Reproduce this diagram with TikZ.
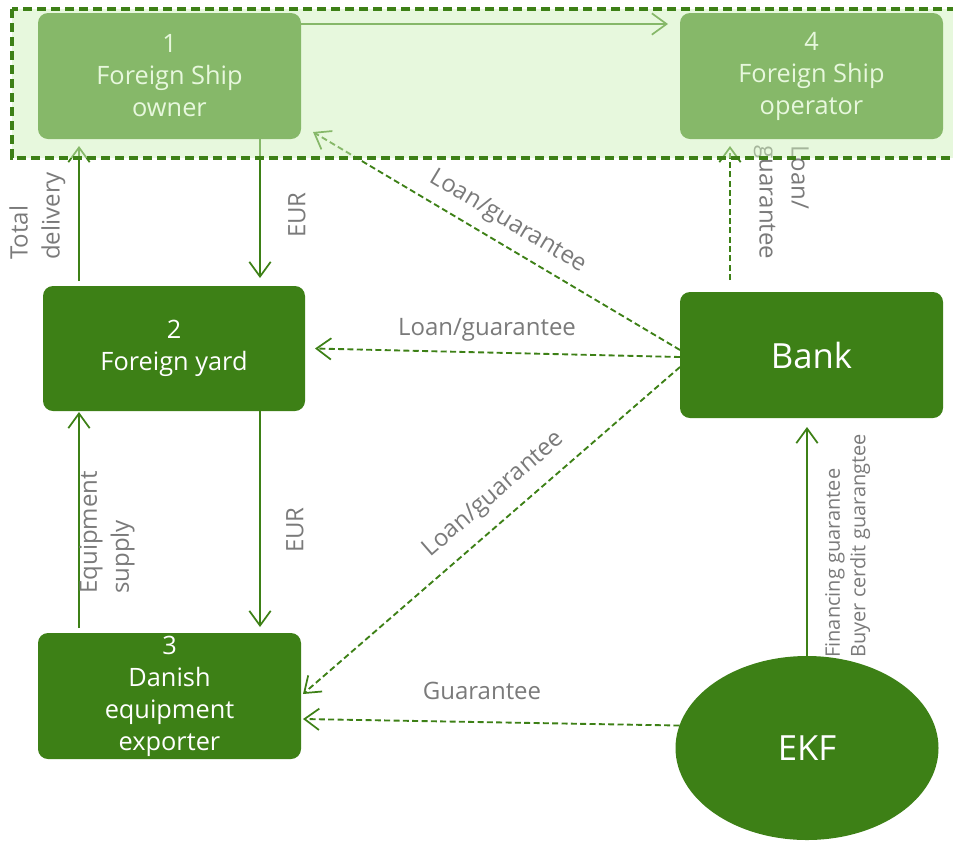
\documentclass[tikz,border=0pt]{standalone}
\usepackage{fontspec}
\setmainfont{Open Sans}
\usetikzlibrary{arrows.meta,calc,shapes.geometric}
\definecolor{dgreen}{RGB}{61,128,22}
\definecolor{ovl}{RGB}{208,241,188}
\definecolor{lblgray}{RGB}{122,122,122}
\tikzset{
  box/.style={rectangle, rounded corners=7.5pt, fill=dgreen, text=white, align=center,
    inner sep=0pt, outer sep=0pt, minimum width=197.25pt, minimum height=94.5pt,
    font=\fontsize{19}{24}\selectfont},
  bigbox/.style={box, font=\fontsize{26}{30}\selectfont},
  flow/.style={draw=dgreen, line width=1.4pt, -{Straight Barb[length=11pt,width=16pt,line width=1.3pt]}},
  dflow/.style={flow, dash pattern=on 4.5pt off 2.5pt},
  lbl/.style={text=lblgray, font=\fontsize{18}{24}\selectfont, inner sep=0pt},
}
\begin{document}
\begin{tikzpicture}[x=0.75pt,y=-0.75pt]
\useasboundingbox (0,0) rectangle (953,840);
% nodes
\node[box] (n1) at (169.5,76) {1\\Foreign Ship\\owner};
\node[box] (n4) at (811.5,76) {4\\Foreign Ship\\operator};
\node[box, minimum width=196.5pt, minimum height=93.75pt] (n2) at (174,348.5) {2\\Foreign yard};
\node[box] (n3) at (169.5,696) {3\\Danish\\equipment\\exporter};
\node[bigbox] (bank) at (811.5,355) {Bank};
\node[ellipse, fill=dgreen, text=white, inner sep=0pt, outer sep=0pt,
  minimum width=197.25pt, minimum height=138pt, font=\fontsize{26}{30}\selectfont] (ekf) at (807,748) {EKF};
% solid connectors
\draw[flow] (n1.east |- 0,24) -- ($(n4.west |- 0,24)+(-12,0)$);
\draw[flow] ($(n2.north west)+(36,-5)$) -- ($(n2.north west |- n1.south)+(36,7)$);
\draw[flow] ($(n1.south west)+(222,0)$) -- ($(n1.south west |- n2.north)+(222,-8)$);
\draw[flow] ($(n2.south west)+(217,0)$) -- ($(n2.south west |- n3.north)+(217,-6)$);
\draw[flow] ($(n3.north west)+(41,-5)$) -- ($(n3.north west |- n2.south)+(41,1)$);
\draw[flow] (ekf.north) -- ($(ekf.north |- bank.south)+(0,9)$);
% dashed connectors
\draw[dflow] ($(bank.west)+(0,-5)$) -- ($(n1.south east)+(12,-7)$);
\draw[dflow] ($(bank.west)+(0,2)$) -- ($(n2.east)+(10,0)$);
\draw[dflow] ($(bank.west)+(0,12)$) -- ($(n3.east)+(2,-2)$);
\draw[dflow] (ekf.170) -- ($(n3.east)+(2,23)$);
\draw[dflow] ($(bank.north west)+(50,-12)$) -- ($(n4.south west)+(50,7)$);
% labels
\node[lbl, rotate=90, anchor=north west, align=left] (ltot) at (9,260) {Total\\delivery};
\node[lbl, rotate=90] (leur1) at (297,215) {EUR};
\node[lbl, rotate=90] (leur2) at (295,530) {EUR};
\node[lbl, rotate=90, anchor=north west, align=left] (lequip) at (79,594) {Equipment\\supply};
\node[lbl, rotate=-31] (llg1) at (508,222) {Loan/guarantee};
\node[lbl] (llg2) at (487,330) {Loan/guarantee};
\node[lbl, rotate=41] (llg3) at (494,495) {Loan/guarantee};
\node[lbl] (lguar) at (482,691) {Guarantee};
\node[lbl, rotate=-90, anchor=north west, align=left] (llg4) at (809,145) {Loan/\\guarantee};
\node[lbl, rotate=90, anchor=north west, align=left, font=\fontsize{15}{19}\selectfont] (lfin) at (825,658) {Financing guarantee\\Buyer cerdit guarangtee};
% overlay group box
\fill[ovl, fill opacity=0.5] (12,9) rectangle (965,158);
\draw[dgreen, line width=2.4pt, dash pattern=on 7pt off 3.5pt] (12,9) rectangle (965,158);
\end{tikzpicture}
\end{document}
